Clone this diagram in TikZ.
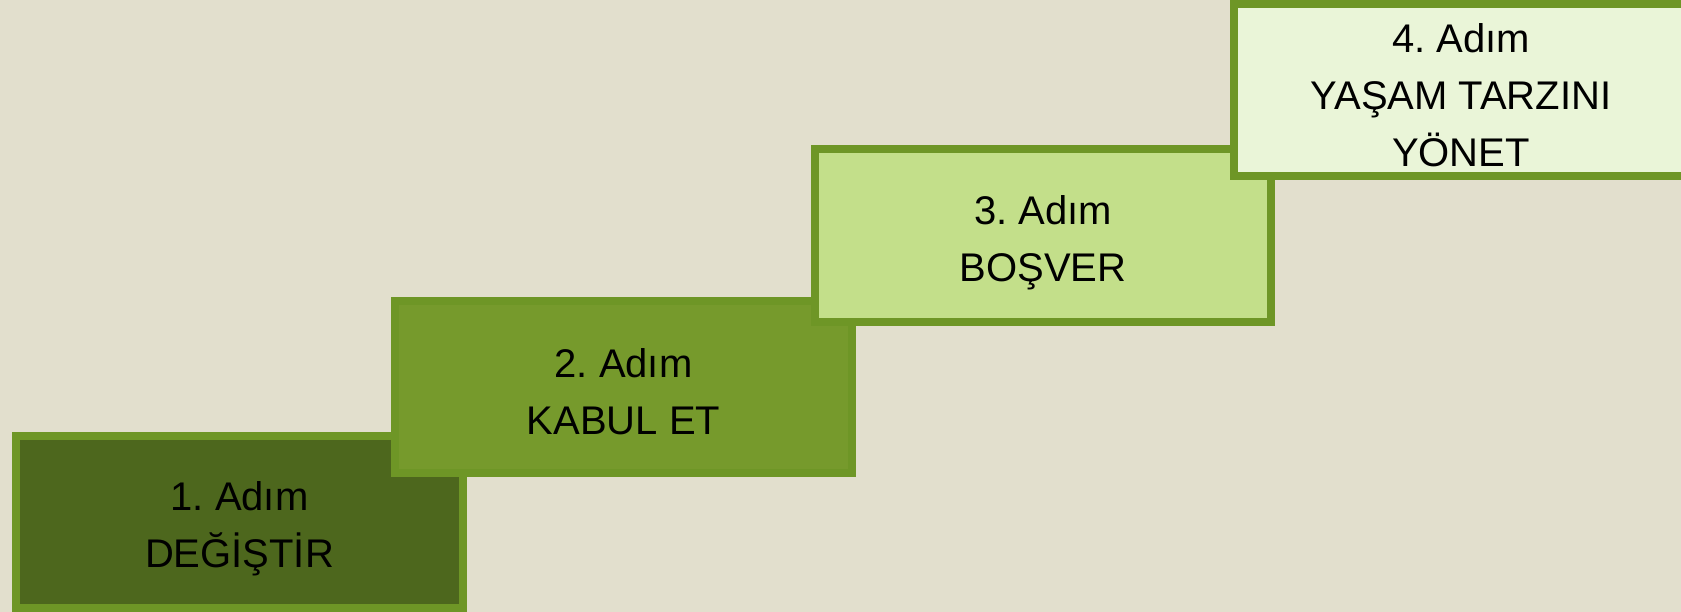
\documentclass[tikz,border=0pt]{standalone}
\usepackage{fontspec}
\setmainfont{Liberation Sans}
\definecolor{bg}{HTML}{E2DFCD}
\definecolor{edge}{HTML}{6E9626}
\definecolor{fillA}{HTML}{4D671D}
\definecolor{fillB}{HTML}{769A2C}
\definecolor{fillC}{HTML}{C3DF8A}
\definecolor{fillD}{HTML}{EAF5D8}
\tikzset{
  stepbox/.style={draw=edge, line width=8pt, rectangle,
    inner sep=0pt, outer sep=0pt, minimum width=455pt, minimum height=172pt},
  steptext/.style={align=center, inner sep=0pt, yshift=-7pt,
    font=\fontsize{40}{57}\selectfont\frenchspacing, text=black},
}
\begin{document}
\begin{tikzpicture}[x=1pt,y=-1pt]
\useasboundingbox (0,0) rectangle (1681,612);
\fill[bg] (0,0) rectangle (1681,612);
\clip (0,0) rectangle (1681,612);
\node[stepbox, fill=fillA, minimum width=447pt] (s1) at (239.5,522) {};
\node[steptext] (t1) at (s1.center) {1. Adım\\DEĞİŞTİR};
\node[stepbox, fill=fillB, minimum width=457pt] (s2) at (623.5,387) {};
\node[steptext, yshift=2pt] (t2) at (s2.center) {2. Adım\\KABUL ET};
\node[stepbox, fill=fillC, minimum width=456pt, minimum height=173pt] (s3) at (1043,235.5) {};
\node[steptext] (t3) at (s3.center) {3. Adım\\BOŞVER};
\node[stepbox, fill=fillD, minimum width=454pt] (s4) at (1461,90) {};
\node[steptext, yshift=2pt] (t4) at (s4.center) {4. Adım\\YAŞAM TARZINI\\YÖNET};
\end{tikzpicture}
\end{document}
